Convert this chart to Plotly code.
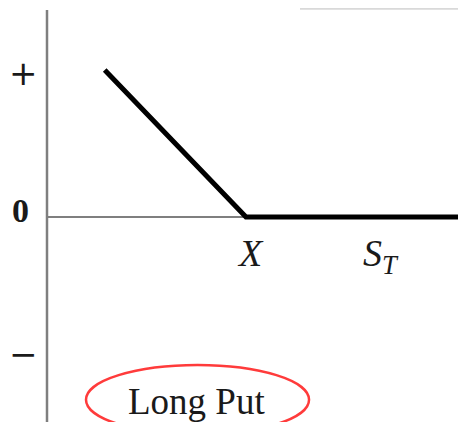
import plotly.graph_objects as go

# payoff of a long put at expiry
strike = 100
spot = [29, 100, 211]
payoff = [71, 0, 0]
y_labels = ["+", "0", "−"]
y_label_pos = [69.5, 3, -66]

serif = "Liberation Serif, Times New Roman, serif"
ink = "#1a1a1a"

fig = go.Figure()

# axes drawn by hand, like in the sketch
fig.add_shape(type="line", xref="x", yref="y", x0=0, x1=0, y0=100, y1=-110,
              line=dict(color="#7f7f7f", width=2.5), layer="below")
fig.add_shape(type="line", xref="x", yref="y", x0=0, x1=220, y0=0, y1=0,
              line=dict(color="#7f7f7f", width=2), layer="below")
# thin grey edge at the top right (crop artifact in the source)
fig.add_shape(type="line", xref="paper", yref="paper", x0=292 / 466, x1=1,
              y0=0.998, y1=0.998, line=dict(color="#d9d9d9", width=2))

fig.add_trace(go.Scatter(
    x=spot,
    y=payoff,
    mode="lines",
    line=dict(color="black", width=5),
    showlegend=False,
    hoverinfo="skip",
))

for txt, yv in zip(y_labels, y_label_pos):
    is_zero = txt == "0"
    fig.add_annotation(
        x=-13.3 if is_zero else -11.8, y=yv, xref="x", yref="y",
        text="<b>0</b>" if is_zero else txt,
        showarrow=False,
        font=dict(family=serif if is_zero else "DejaVu Sans", size=34, color=ink),
    )

fig.add_annotation(x=strike + 2.5, y=-17.5, xref="x", yref="y", text="<i>X</i>",
                   showarrow=False, font=dict(family=serif, size=38, color=ink))
fig.add_annotation(x=168, y=-19, xref="x", yref="y", text="<i>S</i><sub><i>T</i></sub>",
                   showarrow=False, font=dict(family=serif, size=38, color=ink))

# "Long Put" with red ellipse
fig.add_shape(type="circle", xref="x", yref="y", x0=19.6, x1=131.7, y0=-71.5, y1=-105,
              line=dict(color="#ff3b3b", width=2.5))
fig.add_annotation(x=75, y=-89, xref="x", yref="y", text="Long Put",
                   showarrow=False, font=dict(family=serif, size=37, color=ink))

# ranges shifted by the 8px page margin so marks land where the sketch has them
fig.update_xaxes(range=[-19.6, 214.6], visible=False, fixedrange=True)
fig.update_yaxes(range=[-102.9, 101.0], visible=False, fixedrange=True)
fig.update_layout(
    width=466,
    height=422,
    margin=dict(l=0, r=0, t=0, b=0),
    plot_bgcolor="white",
    paper_bgcolor="white",
)

fig.write_html("out.html")
